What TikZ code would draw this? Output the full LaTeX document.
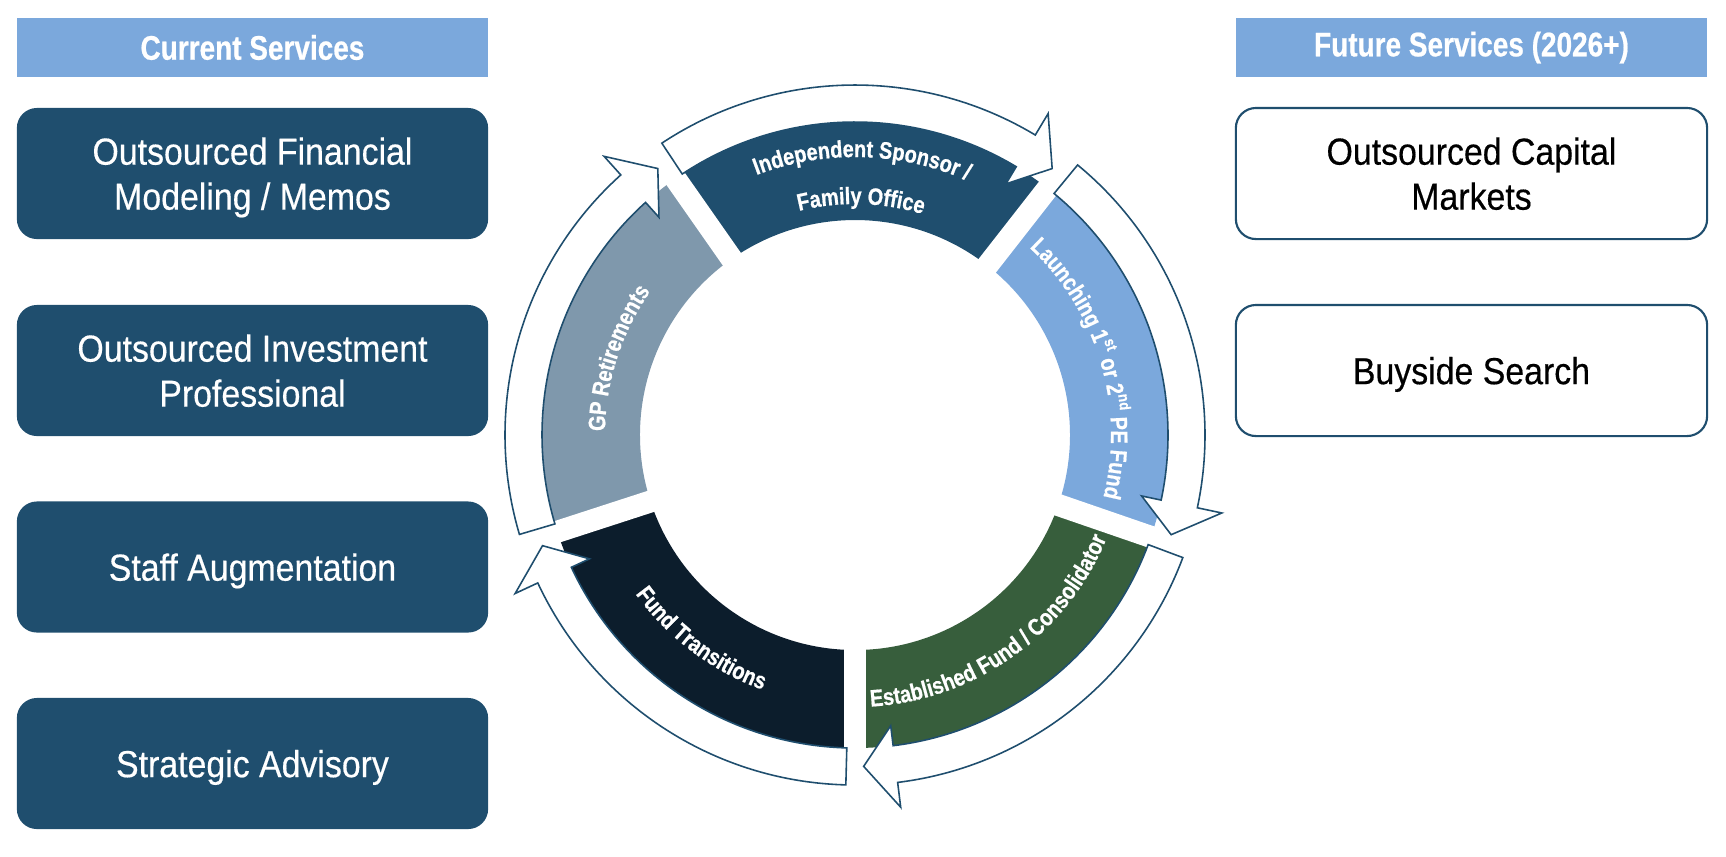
\documentclass[tikz,border=0pt]{standalone}
\usepackage{fontspec}
\setmainfont{Liberation Sans}
\newfontfamily\boxfam[FakeStretch=0.9,FakeBold=0.4]{Liberation Sans}
\newfontfamily\headfam[FakeStretch=0.82,FakeBold=0.6]{Liberation Sans}
\newfontfamily\labfam[FakeStretch=0.84,FakeBold=0.7]{Liberation Sans}
\newcommand\boxtxt{\boxfam\fontsize{10.7pt}{12.8pt}\selectfont}
\newcommand\headtxt{\headfam\bfseries\fontsize{9.7pt}{11pt}\selectfont}
\newcommand\labplain{\labfam\bfseries\fontsize{6.75pt}{8pt}\selectfont}
\newcommand\supplain{\labfam\bfseries\fontsize{4.4pt}{5pt}\selectfont}
\newcommand\labtxt{\labplain\color{white}}
\newcommand\suptxt{\supplain\color{white}}
\newlength\wLa \newlength\wSt \newlength\wOr \newlength\wNd \newlength\wPE
\usetikzlibrary{decorations.text}
\definecolor{blueA}{HTML}{1F4E6E}
\definecolor{lightB}{HTML}{7BA8DC}
\definecolor{greenC}{HTML}{375E3C}
\definecolor{navyD}{HTML}{0C1D2C}
\definecolor{grayE}{HTML}{7F98AC}
\begin{document}
\settowidth\wLa{\labplain Launching 1}%
\settowidth\wSt{\supplain st}%
\settowidth\wOr{\labplain\ or 2}%
\settowidth\wNd{\supplain nd}%
\settowidth\wPE{\labplain\ PE Fund}%
\edef\iA{\the\dimexpr(101.70pt-\wLa-\wSt-\wOr-\wNd-\wPE)/2\relax}%
\edef\iB{\the\dimexpr\iA+\wLa\relax}%
\edef\iC{\the\dimexpr\iA+\wLa+\wSt+\wOr\relax}%
\begin{tikzpicture}[x=0.01cm,y=0.01cm,
  hdr/.style={fill=lightB, text=white, minimum width=4.71cm, minimum height=0.59cm, inner sep=0pt, font=\headtxt},
  curbox/.style={fill=blueA, rounded corners=0.2cm, minimum width=4.71cm, minimum height=1.31cm, text=white, align=center, font=\boxtxt, inner sep=0pt, text depth=0pt},
  futbox/.style={draw=blueA, line width=0.6pt, fill=white, rounded corners=0.2cm, minimum width=4.71cm, minimum height=1.31cm, text=black, align=center, font=\boxtxt, inner sep=0pt, text depth=0pt},
  ring/.style={draw=blueA, line width=0.45pt, fill=white, line join=miter},
  gapbar/.style={white, line width=0.22cm}
]
\useasboundingbox (0,0) rectangle (1726,-856);

% left column
\node[hdr] (curhdr) at (252.5,-47.5) {Current Services};
\node[curbox] (cur1) at (252.5,-173.5) {Outsourced Financial\\Modeling / Memos};
\node[curbox] (cur2) at (252.5,-370.5) {Outsourced Investment\\Professional};
\node[curbox] (cur3) at (252.5,-567) {Staff Augmentation};
\node[curbox] (cur4) at (252.5,-763.5) {Strategic Advisory};

% right column
\node[hdr] (futhdr) at (1471.5,-47.5) {Future Services (2026+)};
\node[futbox] (fut1) at (1471.5,-173.5) {Outsourced Capital\\Markets};
\node[futbox] (fut2) at (1471.5,-370.5) {Buyside Search};

% cycle
\begin{scope}[shift={(855,-435)}]
  \foreach \s/\e/\c in {125/52/blueA, 52/-19/lightB, -19/-90/greenC, -90/-162/navyD, 198/125/grayE}{
    \fill[\c] (\s:313) arc[start angle=\s, end angle=\e, radius=313] -- (\e:215) arc[start angle=\e, end angle=\s, radius=215] -- cycle;
  }
  \foreach \g in {125,52,-19,-90,198}{
    \draw[gapbar] (\g:200) -- (\g:320);
  }
  \foreach \t/\b/\p in {123.5/59/53.5, 50.5/-12/-17.5, -20.5/-83/-88.5, -91.5/-155/-160.5, 196.5/132/126.5}{
    \draw[ring] (\t:350) arc[start angle=\t, end angle=\b, radius=350] -- (\b:375) -- (\p:331.5) -- (\b:293) -- (\b:313) arc[start angle=\b, end angle=\t, radius=313] -- cycle;
  }
  \path[decorate, decoration={text along path, text align=center, text={|\labtxt|Independent Sponsor /}}] (128.5:278) arc[start angle=128.5, end angle=48.5, radius=278];
  \path[decorate, decoration={text along path, text align=center, text={|\labtxt|Family Office}}] (128.5:231) arc[start angle=128.5, end angle=48.5, radius=231];
  \path[decorate, decoration={text along path, text align={left indent=\iA}, text={|\labtxt|Launching 1|\supplain\color{lightB}|st|\labtxt| or 2|\supplain\color{lightB}|nd|\labtxt| PE Fund}}] (56.5:256) arc[start angle=56.5, end angle=-23.5, radius=256];
  \path[decorate, decoration={text along path, raise=2.9pt, text align={left indent=\iB}, text={|\suptxt|st}}] (56.5:256) arc[start angle=56.5, end angle=-23.5, radius=256];
  \path[decorate, decoration={text along path, raise=2.9pt, text align={left indent=\iC}, text={|\suptxt|nd}}] (56.5:256) arc[start angle=56.5, end angle=-23.5, radius=256];
  \path[decorate, decoration={text along path, text align=center, text={|\labtxt|Established Fund / Consolidator}}] (-94.5:272) arc[start angle=-94.5, end angle=-14.5, radius=272];
  \path[decorate, decoration={text along path, text align=center, text={|\labtxt|Fund Transitions}}] (-167:271) arc[start angle=-167, end angle=-87, radius=271];
  \path[decorate, decoration={text along path, text align=center, text={|\labtxt|GP Retirements}}] (202:250) arc[start angle=202, end angle=122, radius=250];
\end{scope}
\end{tikzpicture}
\end{document}
